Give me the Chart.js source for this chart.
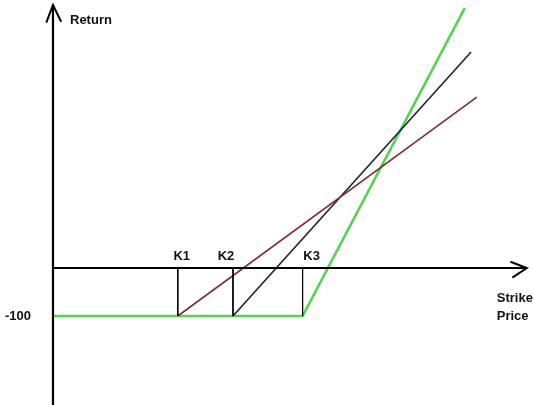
<!DOCTYPE html>
<html>
<head>
<meta charset="utf-8">
<script src="https://cdn.jsdelivr.net/npm/chart.js@4"></script>
<style>
  html, body { margin: 0; padding: 0; background: #fff; }
  #wrap { width: 533px; height: 405px; }
</style>
</head>
<body>
<div id="wrap"><canvas id="payoff" width="533" height="405"></canvas></div>
<script>
// strikes and payoff lines (x = strike price units, y = return)
const kLabels = ['K1', 'K2', 'K3'];
const strikes = [260, 375, 520];
const floorReturn = -100;
const yTickLabels = ['-100'];

const greenX = [0, 520, 858];
const greenY = [-100, -100, 542];
const navyX = [375, 871];
const navyY = [-100, 450];
const brownX = [260, 883];
const brownY = [-100, 356];

// axes extents
const xAxisEnd = 987;
const yAxisTop = 548;
const yAxisBottom = -290;

const pts = (xs, ys) => xs.map((x, i) => ({ x: x, y: ys[i] }));

const seg = (data, color, width) => ({
    data, borderColor: color, backgroundColor: color, borderWidth: width,
    showLine: true, pointRadius: 0, fill: false, tension: 0
});

let datasets = [];
// axes with arrow heads
datasets.push(seg(pts([0, 0], [yAxisBottom, yAxisTop]), '#000', 2.2));
datasets.push(seg(pts([-14, 0, 17], [yAxisTop - 37, yAxisTop, yAxisTop - 35]), '#000', 2));
datasets.push(seg(pts([0, xAxisEnd], [0, 0]), '#000', 2));
datasets.push(seg(pts([953, xAxisEnd, 957], [13, 0, -20]), '#000', 2));
// strike markers
strikes.forEach(k => datasets.push(seg(pts([k, k], [0, floorReturn]), '#000', 1)));
// payoff lines
datasets.push(seg(pts(brownX, brownY), '#7a2f2f', 1.6));
datasets.push(seg(pts(navyX, navyY), '#1d1d3c', 1.6));
datasets.push(seg(pts(greenX, greenY), '#52d452', 2.6));

const labelPlugin = {
    id: 'labels',
    afterDatasetsDraw(chart) {
        const ctx = chart.ctx;
        const sx = chart.scales.x, sy = chart.scales.y;
        const x0 = sx.getPixelForValue(0), y0 = sy.getPixelForValue(0);
        ctx.save();
        ctx.fillStyle = '#111';
        ctx.font = 'bold 13px "Liberation Sans", Arial, sans-serif';
        ctx.textBaseline = 'middle';

        ctx.textAlign = 'left';
        ctx.fillText('Return', x0 + 17, sy.getPixelForValue(yAxisTop) + 15);

        ctx.textAlign = 'right';
        ctx.fillText(yTickLabels[0], x0 - 22, sy.getPixelForValue(floorReturn));

        const shift = [4, -7, 9];
        ctx.textAlign = 'center';
        strikes.forEach((k, i) => {
            ctx.fillText(kLabels[i], sx.getPixelForValue(k) + shift[i], y0 - 12);
        });

        ctx.textAlign = 'left';
        const xe = sx.getPixelForValue(xAxisEnd);
        ctx.fillText('Strike', xe - 30, y0 + 30);
        ctx.fillText('Price', xe - 30, y0 + 48);
        ctx.restore();
    }
};

new Chart(document.getElementById('payoff'), {
    type: 'scatter',
    data: { datasets },
    options: {
        responsive: false,
        animation: false,
        layout: { padding: 0 },
        plugins: { legend: { display: false }, tooltip: { enabled: false } },
        scales: {
            x: { type: 'linear', display: false, min: -110.4, max: 1000 },
            y: { type: 'linear', display: false, min: -285.4, max: 558.3 }
        }
    },
    plugins: [labelPlugin]
});
</script>
</body>
</html>
